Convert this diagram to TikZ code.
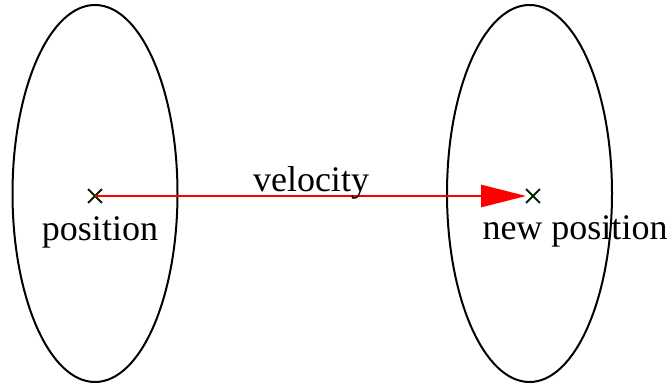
\documentclass[tikz,border=0pt]{standalone}
\usepackage{fontspec}
\setmainfont{Liberation Serif}
\usetikzlibrary{shapes.geometric,shapes.misc,arrows.meta}
\begin{document}
\begin{tikzpicture}[x=1pt,y=-1pt,
  region/.style={ellipse,draw,line width=2pt,minimum width=165pt,minimum height=377pt,inner sep=0pt},
  crossmark/.style={cross out,draw,line width=1.8pt,minimum size=12pt,inner sep=0pt,draw=black!85!green},
  lbl/.style={font=\fontsize{36}{40}\selectfont,anchor=base,inner sep=0pt}]
\useasboundingbox (0,0) rectangle (672,387);
\node[region] (L) at (95,193.5) {};
\node[region] (R) at (529.5,193.5) {};
\node[crossmark] (p) at (95,196) {};
\node[crossmark] (q) at (533,196) {};
\draw[red,line width=2.8pt,-{Triangle[length=45pt,width=22pt]}] (p.center) -- (q.west);
\node[lbl] (v) at (311,192) {velocity};
\node[lbl] (pl) at (100,241) {position};
\node[lbl] (ql) at (575,240) {new position};
\end{tikzpicture}
\end{document}
